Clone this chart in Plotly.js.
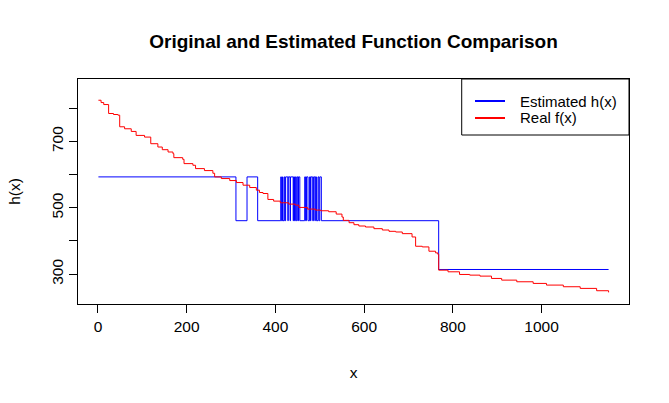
<!DOCTYPE html>
<html>
<head>
<meta charset="utf-8">
<script src="https://cdn.plot.ly/plotly-3.0.1.min.js"></script>
<style>
  body { margin: 0; background: #fff; }
  #chart { width: 669px; height: 403px; }
</style>
</head>
<body>
<div id="chart"></div>
<script>
// real function f(x): breakpoints of the decreasing step curve
var realX = [1, 7, 13, 24, 35, 45, 49, 60, 75, 86, 105, 119, 135, 145, 158, 169, 171, 191, 194, 214,
    220, 240, 259, 263, 278, 297, 312, 327, 342, 357, 364, 372, 383, 396, 411, 430, 445, 453, 472, 490,
    502, 520, 537, 550, 553, 566, 577, 588, 603, 622, 641, 656, 671, 686, 708, 716, 731, 746, 761, 766,
    768, 789, 815, 838, 861, 887, 910, 944, 981, 1011, 1049, 1087, 1124, 1151];
var realY = [824, 817, 811, 784, 781, 779, 744, 738, 730, 718, 713, 693, 683, 675, 668, 663, 651, 646, 633, 628,
    618, 612, 604, 593, 588, 582, 576, 568, 561, 553, 546, 543, 525, 520, 515, 511, 508, 501, 496, 493,
    491, 488, 481, 472, 462, 455, 449, 445, 442, 437, 433, 429, 427, 422, 412, 384, 382, 369, 364, 360,
    312, 307, 299, 297, 294, 287, 282, 277, 272, 267, 262, 257, 250, 245];

// estimated h(x): switch points of the step estimate
var estX = [1, 311, 336, 360, 412, 413.5, 416, 417, 420, 421.5, 423, 428, 429, 433, 434, 440, 441, 443,
    445, 447, 449, 451, 452, 455, 466, 468, 470, 473.5, 477, 479, 480, 484, 486, 489, 490, 492.5,
    496, 498, 500, 503.5, 768, 1151];
var estY = [593, 461, 593, 461, 593, 461, 593, 461, 593, 461, 593, 461, 593, 461, 593, 461, 593, 461,
    593, 461, 593, 461, 593, 461, 593, 461, 593, 461, 593, 461, 593, 461, 593, 461, 593, 461,
    593, 461, 593, 461, 314, 314];

var xTicks = [0, 200, 400, 600, 800, 1000];
var yTicks = [300, 400, 500, 600, 700, 800];
var yTickText = ['300', '', '500', '', '700', ''];

var seriesNames = ['Estimated h(x)', 'Real f(x)'];
var seriesColors = ['#0000ff', '#ff0000'];

var font = 'Liberation Sans, Arial, Helvetica, sans-serif';

var traces = [
    {
        x: estX, y: estY,
        name: seriesNames[0],
        type: 'scatter', mode: 'lines',
        line: {color: seriesColors[0], width: 1, shape: 'hv'}
    },
    {
        x: realX, y: realY,
        name: seriesNames[1],
        type: 'scatter', mode: 'lines',
        line: {color: seriesColors[1], width: 1, shape: 'hv'}
    }
];

// R style legend box, top right corner of the plot region
var legX0 = 0.6964, legY0 = 0.7511;
var rowY = [0.9022, 0.8267];
var shapes = [{
    type: 'rect', xref: 'paper', yref: 'paper',
    x0: legX0, x1: 1, y0: legY0, y1: 1,
    line: {color: '#000', width: 1}, fillcolor: '#fff'
}];
var annotations = [];
seriesNames.forEach(function (name, i) {
    shapes.push({
        type: 'line', xref: 'paper', yref: 'paper',
        x0: 0.7205, x1: 0.775, y0: rowY[i], y1: rowY[i],
        line: {color: seriesColors[i], width: 2}
    });
    annotations.push({
        xref: 'paper', yref: 'paper',
        x: 0.8004, y: rowY[i], xanchor: 'left', yanchor: 'middle',
        text: name, showarrow: false, borderpad: 0,
        font: {family: font, size: 15, color: '#000'}
    });
});

var layout = {
    width: 669,
    height: 403,
    paper_bgcolor: '#fff',
    plot_bgcolor: '#fff',
    font: {family: font, size: 15.5, color: '#000'},
    margin: {l: 78, r: 40, t: 79, b: 99},
    showlegend: false,
    title: {
        text: '<b>Original and Estimated Function Comparison</b>',
        font: {family: font, size: 19, color: '#000'},
        x: 0.5, xref: 'paper', xanchor: 'center',
        y: 0.898, yref: 'container', yanchor: 'middle'
    },
    xaxis: {
        range: [-45, 1197],
        tickvals: xTicks,
        ticktext: xTicks.map(String),
        ticks: 'outside', ticklen: 8, tickcolor: '#000',
        showline: true, mirror: true, linecolor: '#000', linewidth: 1,
        showgrid: false, zeroline: false,
        title: {text: 'x', standoff: 33, font: {family: font, size: 15.5}}
    },
    yaxis: {
        range: [210, 888],
        tickvals: yTicks,
        ticktext: yTickText,
        tickangle: -90,
        ticks: 'outside', ticklen: 8, tickcolor: '#000',
        showline: true, mirror: true, linecolor: '#000', linewidth: 1,
        showgrid: false, zeroline: false,
        title: {text: 'h(x)', standoff: 24, font: {family: font, size: 15.5}}
    },
    shapes: shapes,
    annotations: annotations
};

Plotly.newPlot('chart', traces, layout, {displayModeBar: false, staticPlot: true});
</script>
</body>
</html>
